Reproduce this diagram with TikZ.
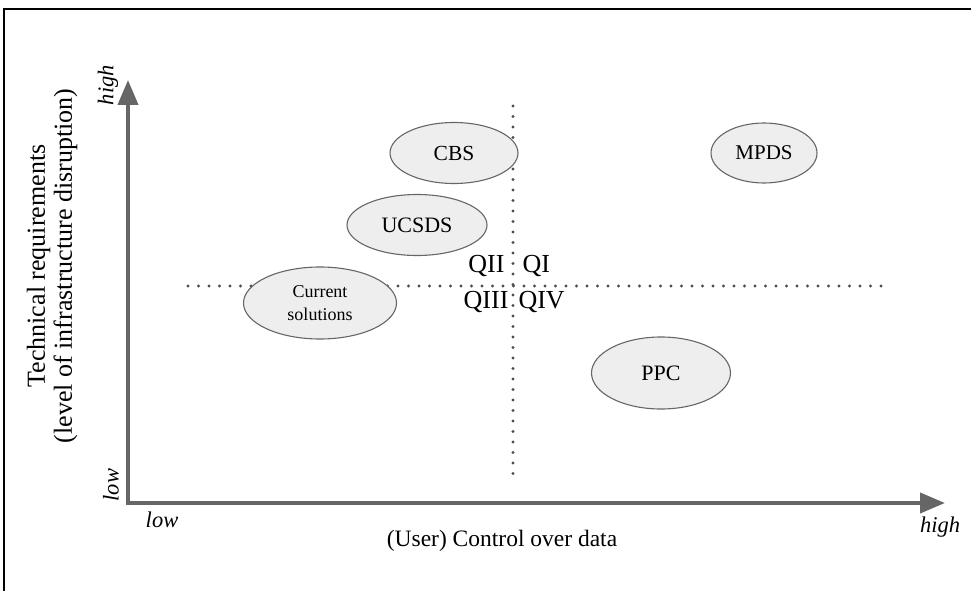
\documentclass[tikz,border=0pt]{standalone}
\usepackage{fontspec}
\setmainfont{Liberation Serif}
\usetikzlibrary{arrows.meta,shapes.geometric}
\definecolor{axisgray}{HTML}{666666}
\definecolor{blobfill}{HTML}{EEEEEE}
\tikzset{
  blob/.style={ellipse, draw=axisgray, fill=blobfill, line width=1.1pt, inner sep=0pt},
  axisline/.style={axisgray, line width=4pt, -{Triangle[length=25pt,width=20pt]}},
  guide/.style={black!70, line width=3.3pt, line cap=round, dash pattern=on 0pt off 10.5pt},
  ends/.style={font=\fontsize{22.5}{24}\selectfont\itshape}
}
\begin{document}
\begin{tikzpicture}[x=1pt, y=-1pt]
  \useasboundingbox (0,0) rectangle (971,591);
  \draw[line width=2.5pt] (4,591) -- (4,9) -- (971,9);
  \coordinate (origin) at (128,503);
  \coordinate (ytip) at (128,80);
  \coordinate (xtip) at (945,503);
  \coordinate (hl) at (188,286);
  \coordinate (hr) at (883,286);
  \coordinate (vt) at (513,106);
  \coordinate (vb) at (513,480);
  \draw[guide] (hl) -- (hr);
  \draw[guide] (vt) -- (vb);
  \draw[axisline] ([yshift=-2pt]origin) -- (ytip);
  \draw[axisline] ([xshift=-2pt]origin) -- (xtip);
  \node[blob, minimum width=128pt, minimum height=61pt, font=\fontsize{21.5}{24}\selectfont] (cbs) at (454,153) {CBS};
  \node[blob, minimum width=106pt, minimum height=60pt, font=\fontsize{21}{24}\selectfont] (mpds) at (764,153) {MPDS};
  \node[blob, minimum width=140pt, minimum height=61pt, font=\fontsize{22}{24}\selectfont] (ucsds) at (417,225) {UCSDS};
  \node[blob, minimum width=153pt, minimum height=72pt, align=center, font=\fontsize{18}{23}\selectfont] (current) at (320,303) {Current\\solutions};
  \node[blob, minimum width=139pt, minimum height=72pt, font=\fontsize{22}{24}\selectfont] (ppc) at (661,373) {PPC};
  \node[font=\fontsize{26}{28}\selectfont, anchor=east] (q2) at (508,266) {QII};
  \node[font=\fontsize{26}{28}\selectfont, anchor=west] (q1) at (519,266) {QI};
  \node[font=\fontsize{26}{28}\selectfont, anchor=east] (q3) at (512,302) {QIII};
  \node[font=\fontsize{26}{28}\selectfont, anchor=west] (q4) at (515,302) {QIV};
  \node[ends, rotate=90] (yhigh) at (108,85) {high};
  \node[ends, rotate=90] (ylow) at (111,485) {low};
  \node[ends] (xlow) at (162,520) {low};
  \node[ends] (xhigh) at (940,527) {high};
  \node[font=\fontsize{23.5}{26}\selectfont] (xlabel) at (502,541) {(User) Control over data};
  \node[rotate=90, align=center, font=\fontsize{26}{27}\selectfont] (ylabel) at (52,266) {Technical requirements\\(level of infrastructure disruption)};
\end{tikzpicture}
\end{document}
